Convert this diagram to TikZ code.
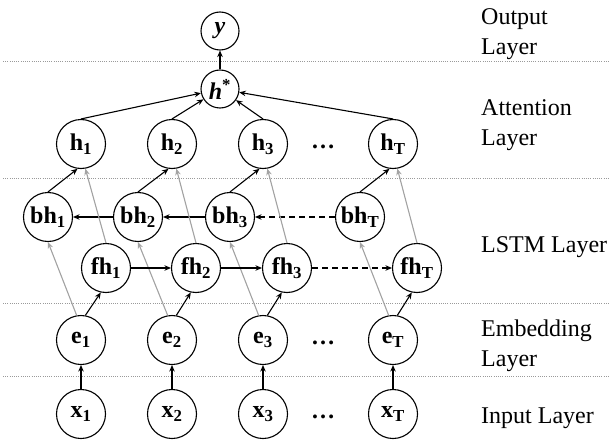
\documentclass[tikz,border=0pt]{standalone}
\usepackage{fontspec}
\setmainfont{Liberation Serif}
\usetikzlibrary{arrows.meta}
\definecolor{linegray}{HTML}{A3A3A3}
\definecolor{sepgray}{HTML}{9A9A9A}

\begin{document}
\begin{tikzpicture}[
    x=1pt, y=-1pt,
    unit/.style={circle, draw, line width=1.1pt, minimum size=49pt, inner sep=0pt, font=\fontsize{24}{26}\selectfont\bfseries},
    topunit/.style={unit, minimum size=38pt},
    arrow/.style={-{Stealth[length=6.5pt, width=5.5pt]}, line width=1.1pt},
    grayarrow/.style={arrow, draw=linegray, fill=linegray},
    dasharrow/.style={arrow, dash pattern=on 6pt off 4pt},
    sep/.style={draw=sepgray, line width=0.8pt, dash pattern=on 1pt off 1.2pt},
    layer/.style={anchor=base west, align=left, inner sep=0pt, font=\fontsize{24}{30}\selectfont},
    dots/.style={inner sep=0pt, font=\fontsize{24}{26}\selectfont\bfseries}
  ]
    \useasboundingbox (0,0) rectangle (612,441);

    \draw[sep] (3,61) -- (609,61);
    \draw[sep] (3,178) -- (609,178);
    \draw[sep] (3,303) -- (609,303);
    \draw[sep] (3,376) -- (609,376);

    \node[topunit] (y) at (220,31) {\textit{y}};
    \node[topunit] (hs) at (220,89) {\textit{h}\textsuperscript{*}};

    \node[unit] (h1) at (81,144) {h\textsubscript{1}};
    \node[unit] (h2) at (172,144) {h\textsubscript{2}};
    \node[unit] (h3) at (263,144) {h\textsubscript{3}};
    \node[dots] (hdots) at (323,147) {\dots};
    \node[unit] (hT) at (393,144) {h\textsubscript{T}};

    \node[unit] (bh1) at (48,217) {bh\textsubscript{1}};
    \node[unit] (bh2) at (138,217) {bh\textsubscript{2}};
    \node[unit] (bh3) at (230,217) {bh\textsubscript{3}};
    \node[unit] (bhT) at (360,217) {bh\textsubscript{T}};

    \node[unit] (fh1) at (106,268) {fh\textsubscript{1}};
    \node[unit] (fh2) at (196,268) {fh\textsubscript{2}};
    \node[unit] (fh3) at (287,268) {fh\textsubscript{3}};
    \node[unit] (fhT) at (417,268) {fh\textsubscript{T}};

    \node[unit] (e1) at (81,340) {e\textsubscript{1}};
    \node[unit] (e2) at (172,340) {e\textsubscript{2}};
    \node[unit] (e3) at (263,340) {e\textsubscript{3}};
    \node[dots] (edots) at (323,343) {\dots};
    \node[unit] (eT) at (393,340) {e\textsubscript{T}};

    \node[unit] (x1) at (81,414) {x\textsubscript{1}};
    \node[unit] (x2) at (172,414) {x\textsubscript{2}};
    \node[unit] (x3) at (263,414) {x\textsubscript{3}};
    \node[dots] (xdots) at (323,417) {\dots};
    \node[unit] (xT) at (393,414) {x\textsubscript{T}};

    \node[layer] (outlbl) at (481,55) {Output\\Layer};
    \node[layer] (attlbl) at (481,145) {Attention\\Layer};
    \node[layer] (lstmlbl) at (481,252) {LSTM Layer};
    \node[layer] (emblbl) at (481,366) {Embedding\\Layer};
    \node[layer] (inlbl) at (481,423) {Input Layer};

    \draw[arrow] (x1) -- (e1);
    \draw[arrow] (x2) -- (e2);
    \draw[arrow] (x3) -- (e3);
    \draw[arrow] (xT) -- (eT);

    \draw[grayarrow] (e1.100) -- (bh1.south);
    \draw[grayarrow] (e2.100) -- (bh2.south);
    \draw[grayarrow] (e3.100) -- (bh3.south);
    \draw[grayarrow] (eT.100) -- (bhT.south);
    \draw[arrow] (e1.80) -- (fh1.258);
    \draw[arrow] (e2.80) -- (fh2.258);
    \draw[arrow] (e3.80) -- (fh3.258);
    \draw[arrow] (eT.80) -- (fhT.258);

    \draw[arrow] (bh2) -- (bh1);
    \draw[arrow] (bh3) -- (bh2);
    \draw[dasharrow] (bhT) -- (bh3);
    \draw[arrow] (fh1) -- (fh2);
    \draw[arrow] (fh2) -- (fh3);
    \draw[dasharrow] (fh3) -- (fhT);

    \draw[grayarrow] (fh1.north) -- (h1.280);
    \draw[grayarrow] (fh2.north) -- (h2.280);
    \draw[grayarrow] (fh3.north) -- (h3.280);
    \draw[grayarrow] (fhT.north) -- (hT.280);
    \draw[arrow] (bh1.north) -- (h1.262);
    \draw[arrow] (bh2.north) -- (h2.262);
    \draw[arrow] (bh3.north) -- (h3.262);
    \draw[arrow] (bhT.north) -- (hT.262);

    \draw[arrow] (h1.north) -- (hs);
    \draw[arrow] (h2.north) -- (hs);
    \draw[arrow] (h3.north) -- (hs);
    \draw[arrow] (hT.north) -- (hs);
    \draw[arrow] (hs) -- (y);
  \end{tikzpicture}
\end{document}
